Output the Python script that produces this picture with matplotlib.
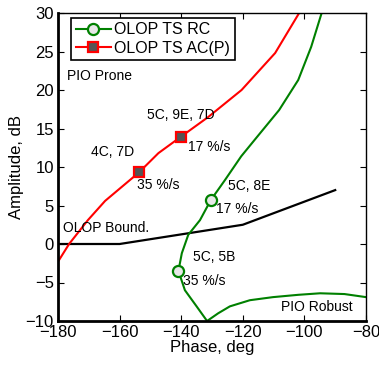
import numpy as np
import matplotlib
matplotlib.use('Agg')
import matplotlib.pyplot as plt

plt.rcParams['font.family'] = ['Liberation Sans', 'DejaVu Sans']

# OLOP TS AC(P) curve (red)
ac_phase = [-180, -176.4, -170.3, -164.7, -153.7, -147.4, -140.2, -131.2,
            -120.4, -109.5, -101.7]
ac_amp = [-2.3, 0, 3.1, 5.6, 9.3, 11.8, 13.9, 16.5, 20.0, 24.8, 30]
ac_pts_phase = [-153.7, -140.2]
ac_pts_amp = [9.3, 13.9]

# OLOP TS RC curve (green)
rc_phase = [-131.6, -135.0, -138.8, -140.9, -139.8, -137.7, -133.9, -130.4,
            -125.8, -120.5, -116.0, -108.2, -102.0, -97.8, -94.4]
rc_amp = [-10, -8.1, -6.0, -3.5, -1.2, 1.2, 3.1, 5.7, 8.3, 11.4, 13.6, 17.4,
          21.3, 25.6, 30]
rc_pts_phase = [-130.4, -140.9]
rc_pts_amp = [5.7, -3.5]

# PIO robust boundary arc (green)
rob_phase = [-131.6, -128, -124.2, -117.7, -110.2, -102, -94.9, -87, -80]
rob_amp = [-10, -9.0, -8.1, -7.3, -6.9, -6.6, -6.4, -6.5, -6.9]

# OLOP boundary (black)
bnd_phase = [-180, -160, -120, -90]
bnd_amp = [0, 0, 2.5, 7]

green = '#008000'
fig = plt.figure(figsize=(3.79, 3.65), dpi=100)
ax = fig.add_axes([58/379, 1-321/365, 308/379, 308/365])

ax.plot(bnd_phase, bnd_amp, color='black', lw=1.6)
ax.plot(rob_phase, rob_amp, color=green, lw=1.5)
ax.plot(ac_phase, ac_amp, color='red', lw=1.5)
ax.plot(rc_phase, rc_amp, color=green, lw=1.5)
ax.plot(rc_pts_phase, rc_pts_amp, 'o', color=green, mfc='#e8e8e8',
        mec=green, ms=8, mew=1.6)
ax.plot(ac_pts_phase, ac_pts_amp, 's', color='red', mfc='#555555',
        mec='red', ms=7, mew=1.6)

# legend proxies
h1, = ax.plot([], [], '-o', color=green, mfc='#e8e8e8', mec=green, ms=8,
              mew=1.6, lw=1.5)
h2, = ax.plot([], [], '-s', color='red', mfc='#555555', mec='red', ms=7,
              mew=1.6, lw=1.5)
leg = ax.legend([h1, h2], ['OLOP TS RC', 'OLOP TS AC(P)'], loc='upper left',
                bbox_to_anchor=(0.042, 0.985), fontsize=11.5, fancybox=False,
                framealpha=1, edgecolor='black', borderpad=0.3,
                labelspacing=0.2, handlelength=2.2, handletextpad=0.2,
                borderaxespad=0)
leg.get_frame().set_linewidth(1.2)

fs = 10
ax.text(-177, 21.8, 'PIO Prone', fontsize=fs, va='center')
ax.text(-151, 16.8, '5C, 9E, 7D', fontsize=fs, va='center')
ax.text(-169.3, 12, '4C, 7D', fontsize=fs, va='center')
ax.text(-137.8, 12.6, '17 %/s', fontsize=fs, va='center')
ax.text(-154.4, 7.6, '35 %/s', fontsize=fs, va='center')
ax.text(-124.8, 7.5, '5C, 8E', fontsize=fs, va='center')
ax.text(-128.7, 4.6, '17 %/s', fontsize=fs, va='center')
ax.text(-136.2, -1.7, '5C, 5B', fontsize=fs, va='center')
ax.text(-139.4, -4.8, '35 %/s', fontsize=fs, va='center')
ax.text(-178.4, 2.1, 'OLOP Bound.', fontsize=fs, va='center')
ax.text(-107.6, -8.2, 'PIO Robust', fontsize=fs, va='center')

ax.set_xlim(-180, -80)
ax.set_ylim(-10, 30)
ax.set_xticks(np.arange(-180, -79, 20))
ax.set_yticks(np.arange(-10, 31, 5))
ax.tick_params(direction='in', top=True, right=True, labelsize=12,
               length=4, width=0.8, pad=3)
ax.set_xticklabels([f'\u2212{abs(v)}' for v in range(-180, -79, 20)])
ax.set_yticklabels([f'\u2212{abs(v)}' if v < 0 else str(v)
                    for v in range(-10, 31, 5)])
ax.set_xlabel('Phase, deg', fontsize=12, labelpad=0)
ax.set_ylabel('Amplitude, dB', fontsize=12, labelpad=1)
for s in ['left', 'bottom']:
    ax.spines[s].set_linewidth(2)
for s in ['top', 'right']:
    ax.spines[s].set_linewidth(1)

fig.savefig('out.png', dpi=100)
